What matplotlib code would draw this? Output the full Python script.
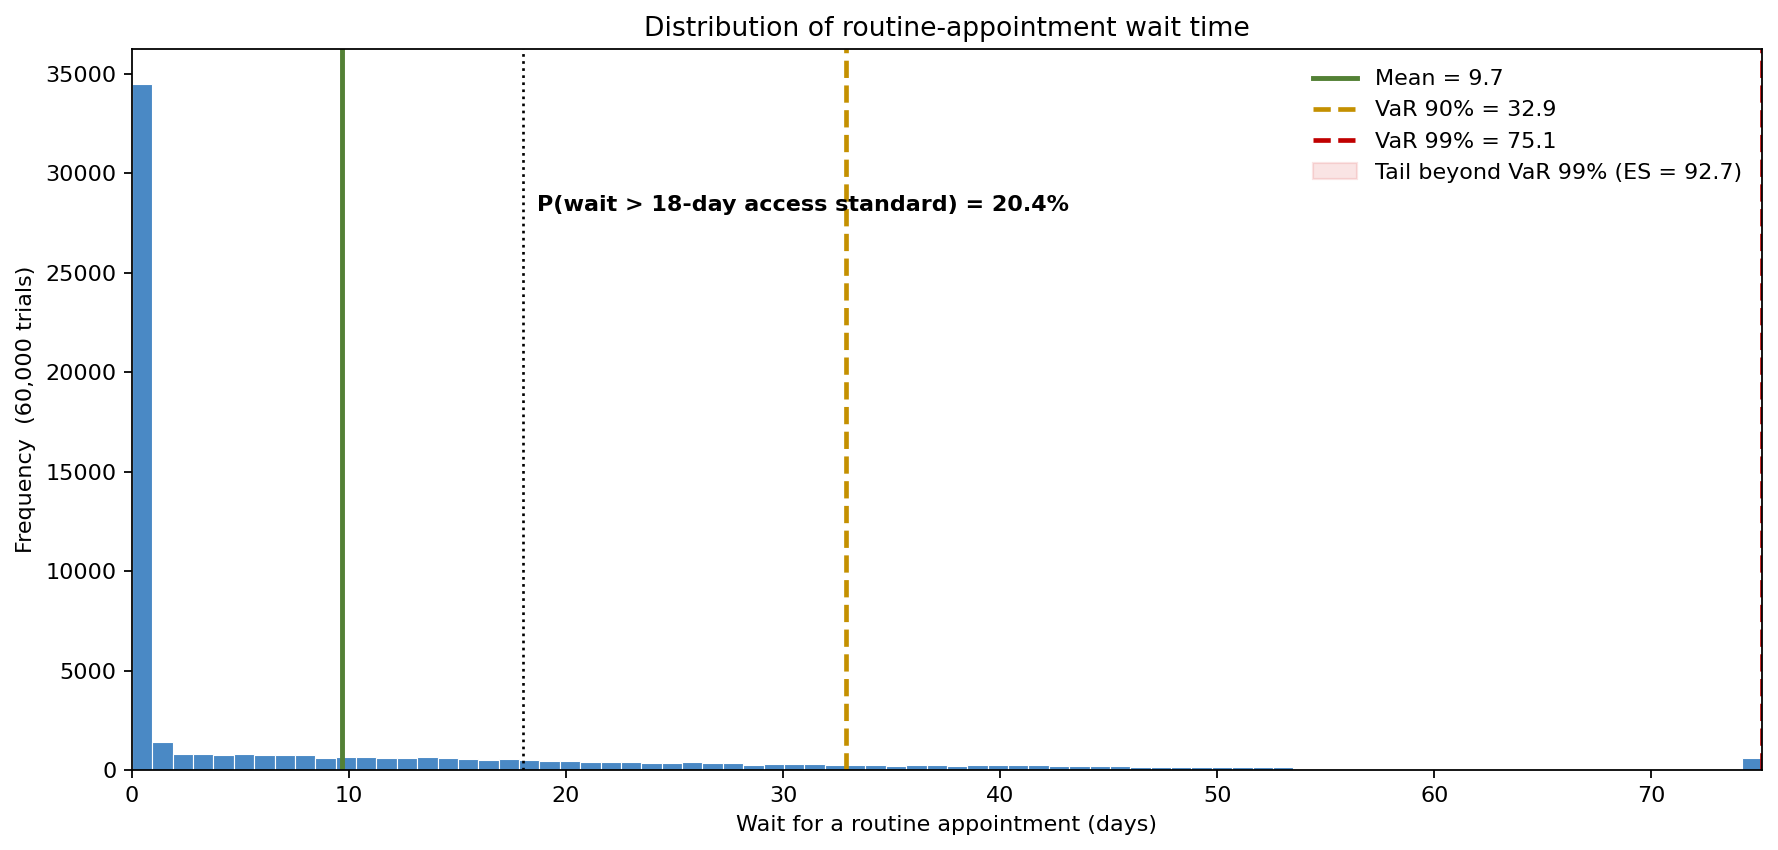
import matplotlib
matplotlib.use("Agg")
import matplotlib.pyplot as plt
import numpy as np

# histogram counts, 80 equal bins from 0 to VaR 99% (values above are clipped into the last bin)
counts = [34500, 1400, 830, 830, 780, 830, 780, 780, 780, 630,
          660, 660, 630, 630, 680, 630, 580, 530, 580, 530,
          480, 480, 430, 430, 430, 380, 380, 430, 380, 380,
          280, 330, 330, 330, 280, 280, 280, 230, 280, 280,
          220, 280, 240, 240, 240, 200, 200, 200, 200, 150,
          150, 150, 150, 150, 150, 140, 140, 40, 38, 35,
          33, 30, 28, 26, 24, 22, 20, 18, 16, 15,
          14, 12, 11, 10, 9, 8, 7, 6, 5, 600]

mean_wait = 9.7
var90 = 32.9
var99 = 75.1
es99 = 92.7
standard = 18
p_exceed = 20.4
n_trials = 60000

edges = np.linspace(0, var99, len(counts) + 1)

dpi = 160
fig = plt.figure(figsize=(1778 / dpi, 850 / dpi), dpi=dpi)
ax = fig.add_axes([0.0742, 0.094, 0.9168, 0.848])

ax.bar(edges[:-1], counts, width=np.diff(edges), align='edge',
       color='#4a89c5', edgecolor='white', linewidth=0.5)

ax.axvline(mean_wait, color='#538135', linewidth=2.2, label=f'Mean = {mean_wait}')
ax.axvline(var90, color='#c49000', linewidth=2.1, linestyle='--', label=f'VaR 90% = {var90}')
ax.axvline(var99, color='#c00000', linewidth=2.1, linestyle='--', label=f'VaR 99% = {var99}')
ax.axvspan(var99, es99 + 20, color='#d62728', alpha=0.12,
           label=f'Tail beyond VaR 99% (ES = {es99})')
ax.axvline(standard, color='black', linewidth=1.2, linestyle=':')

ax.text(standard + 0.65, 28400,
        f'P(wait > {standard}-day access standard) = {p_exceed}%',
        fontsize=10, fontweight='bold', va='center', ha='left')

ax.set_xlim(0, var99)
ax.set_ylim(0, max(counts) * 1.05)
ax.set_title('Distribution of routine-appointment wait time', fontsize=12)
ax.set_xlabel('Wait for a routine appointment (days)')
ax.set_ylabel(f'Frequency  ({n_trials:,} trials)')
ax.legend(loc='upper right', frameon=False, fontsize=10)

fig.savefig('out.png', dpi=dpi)
